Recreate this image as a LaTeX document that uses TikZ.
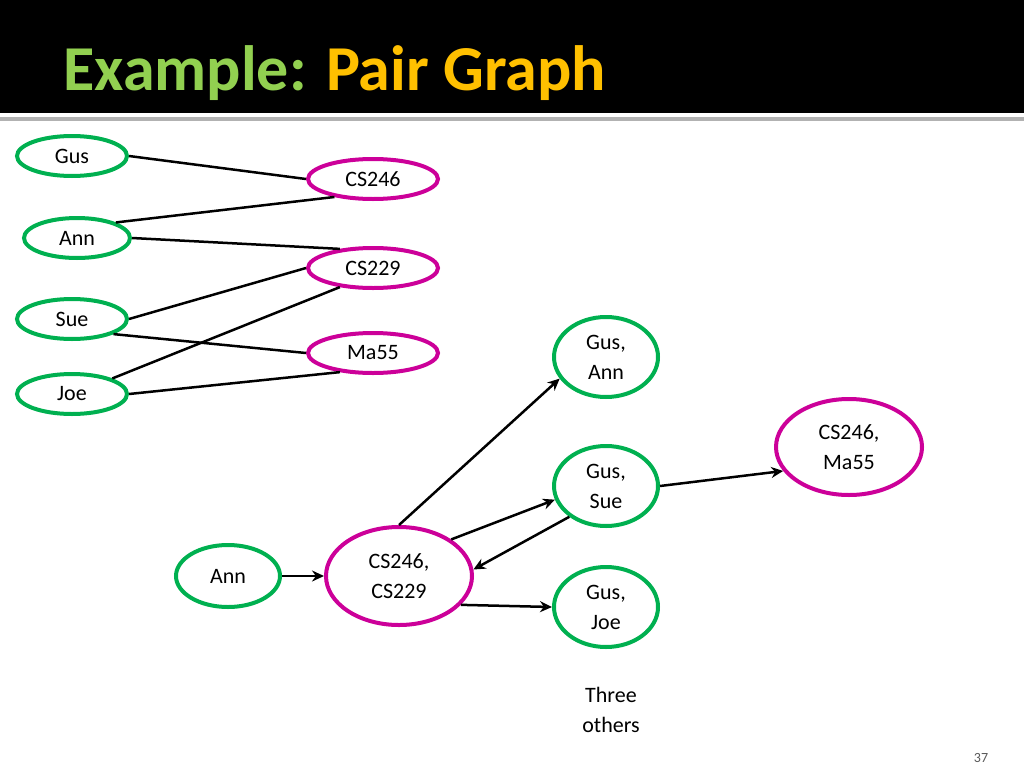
\documentclass[tikz,border=0pt]{standalone}
\usepackage{fontspec}
\setmainfont{Carlito}
\usetikzlibrary{shapes.geometric,arrows.meta}
\definecolor{gn}{HTML}{00B050}
\definecolor{mg}{HTML}{CC0099}
\definecolor{tg}{HTML}{92D050}
\definecolor{ty}{HTML}{FFC000}
\begin{document}
\begin{tikzpicture}[x=1pt,y=-1pt,
 el/.style={ellipse,draw,line width=4pt,inner sep=0pt,align=center,font=\fontsize{22}{30}\selectfont},
 g/.style={el,draw=gn},
 m/.style={el,draw=mg},
 ln/.style={line width=2.5pt},
 ar/.style={line width=2.5pt,-{Stealth[length=12pt,width=11pt,open]}}]
\useasboundingbox (0,0) rectangle (1024,768);
\fill[black] (0,0) rectangle (1024,113);
\fill[gray!60] (0,117) rectangle (1024,121);
\node[anchor=base west,font=\bfseries\fontsize{64}{64}\selectfont] (title) at (60,90) {\textcolor{tg}{Example:} \textcolor{ty}{Pair Graph}};
\node[g,minimum width=110,minimum height=40] (gus) at (72,156) {Gus};
\node[g,minimum width=106,minimum height=40] (ann) at (77,238) {Ann};
\node[g,minimum width=110,minimum height=40] (sue) at (72,319) {Sue};
\node[g,minimum width=110,minimum height=40] (joe) at (72,394) {Joe};
\node[m,minimum width=130,minimum height=40] (c246) at (373,179) {CS246};
\node[m,minimum width=130,minimum height=40] (c229) at (373,268) {CS229};
\node[m,minimum width=130,minimum height=40] (ma) at (373,353) {Ma55};
\node[g,minimum width=104,minimum height=80] (ga) at (606,357) {Gus,\\Ann};
\node[g,minimum width=104,minimum height=80] (gs) at (606,486) {Gus,\\Sue};
\node[g,minimum width=104,minimum height=80] (gj) at (606,607) {Gus,\\Joe};
\node[m,minimum width=146,minimum height=96] (cm) at (849,447) {CS246,\\Ma55};
\node[g,minimum width=104,minimum height=62] (ann2) at (228,576) {Ann};
\node[m,minimum width=146,minimum height=98] (cc) at (399,576) {CS246,\\CS229};
\node[align=center,font=\fontsize{22}{30}\selectfont] (three) at (611,710) {Three\\others};
\node[font=\fontsize{14}{14}\selectfont,text=gray!70!black] (pg) at (981,758) {37};
\draw[ln] (gus.east) -- (c246.west);
\draw[ln] (ann.north east) -- (c246.-155);
\draw[ln] (ann.east) -- (c229.150);
\draw[ln] (sue.east) -- (c229.west);
\draw[ln] (sue.-20) -- (ma.west);
\draw[ln] (joe.north east) -- (c229.-150);
\draw[ln] (joe.east) -- (ma.-150);
\draw[ar] (ann2) -- (cc);
\draw[ar] (cc.north) -- (ga.-155);
\draw[ar] (cc.35) -- (gs.-165);
\draw[ar] (gs.-140) -- (cc.5);
\draw[ar] (cc.-25) -- (gj.west);
\draw[ar] (gs.east) -- (cm.-160);
\end{tikzpicture}
\end{document}
